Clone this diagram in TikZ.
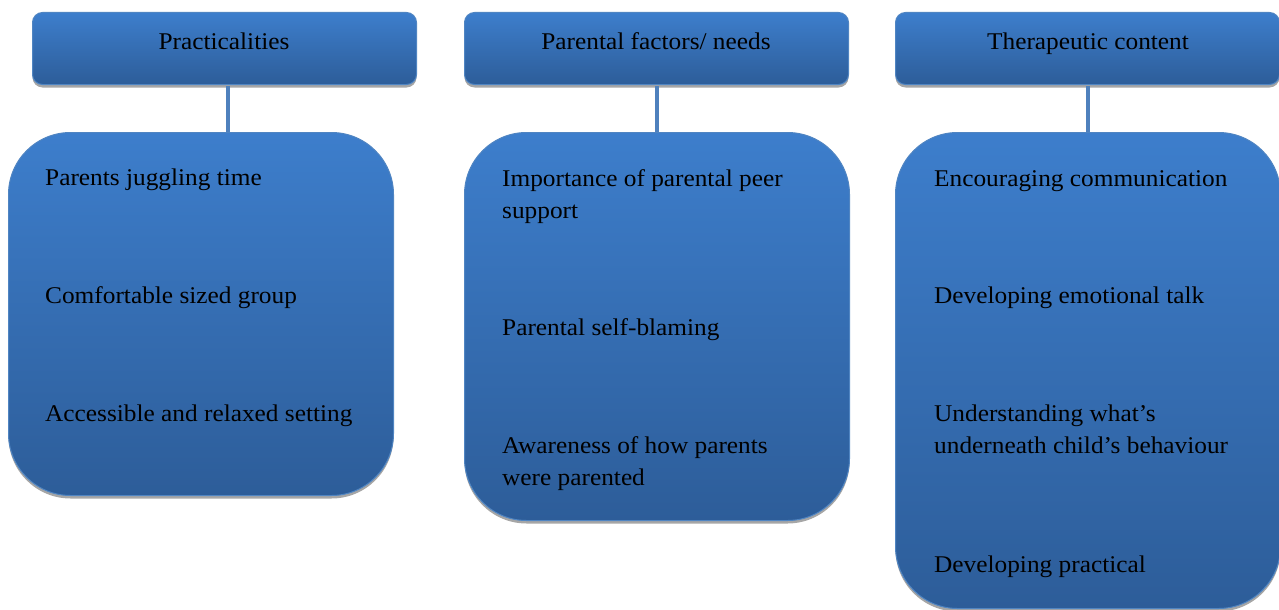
\documentclass[tikz,border=0pt]{standalone}
\usepackage{fontspec}
\setmainfont[FakeStretch=1.055]{Liberation Serif}
\usepackage{xcolor}
\usepackage{tikz}
\usetikzlibrary{shadows}
\definecolor{boxtop}{HTML}{3D7ECC}
\definecolor{boxbot}{HTML}{2D5D99}
\definecolor{rim}{HTML}{5085C2}
\definecolor{linkc}{HTML}{4F81BD}
\definecolor{shade}{HTML}{A6A6A6}
\tikzset{
  card/.style={draw=rim, line width=1pt, shading=axis, top color=boxtop, bottom color=boxbot,
    drop shadow={shadow xshift=0pt, shadow yshift=-3pt, fill=shade, opacity=1},
    inner sep=0pt, anchor=north west},
  head/.style={card, rounded corners=10pt, minimum width=384pt, minimum height=72pt},
  big/.style={card, rounded corners=62pt, minimum width=385pt},
  link/.style={draw=linkc, line width=4pt},
  item/.style={text=black, font=\fontsize{24}{32}\selectfont, inner sep=0pt, anchor=west, align=left},
  title/.style={text=black, font=\fontsize{24}{32}\selectfont, anchor=base},
}
\begin{document}
\begin{tikzpicture}[x=1pt,y=-1pt]
  \useasboundingbox (0,0) rectangle (1279,610);
  % headers
  \node[head] (prac) at (32,12) {};
  \node[head] (par) at (464,12) {};
  \node[head] (ther) at (895,12) {};
  \node[title] at (224,50) {Practicalities};
  \node[title] at (656,50) {Parental factors/ needs};
  \node[title] at (1088,50) {Therapeutic content};
  % boxes
  \node[big, minimum height=363pt] (pracbox) at (8,132) {};
  \node[big, minimum height=388pt] (parbox) at (464,132) {};
  \node[big, minimum height=476pt] (therbox) at (895,132) {};
  \draw[link] (prac.south) ++(3,1) coordinate (p1) -- (p1 |- pracbox.north);
  \draw[link] (par.south) ++(0,1) coordinate (p2) -- (p2 |- parbox.north);
  \draw[link] (ther.south) ++(0,1) coordinate (p3) -- (p3 |- therbox.north);
  % items
  \node[item] (a1) at (45,180) {Parents juggling time};
  \node[item] (a2) at (45,298) {Comfortable sized group};
  \node[item] (a3) at (45,416) {Accessible and relaxed setting};
  \node[item] (b1) at (502,197) {Importance of parental peer\\support};
  \node[item] (b2) at (502,330) {Parental self-blaming};
  \node[item] (b3) at (502,464) {Awareness of how parents\\were parented};
  \node[item] (c1) at (934,181) {Encouraging communication};
  \node[item] (c2) at (934,298) {Developing emotional talk};
  \node[item] (c3) at (934,429) {Understanding what’s\\underneath child’s behaviour};
  \node[item] (c4) at (934,567) {Developing practical};
\end{tikzpicture}
\end{document}
